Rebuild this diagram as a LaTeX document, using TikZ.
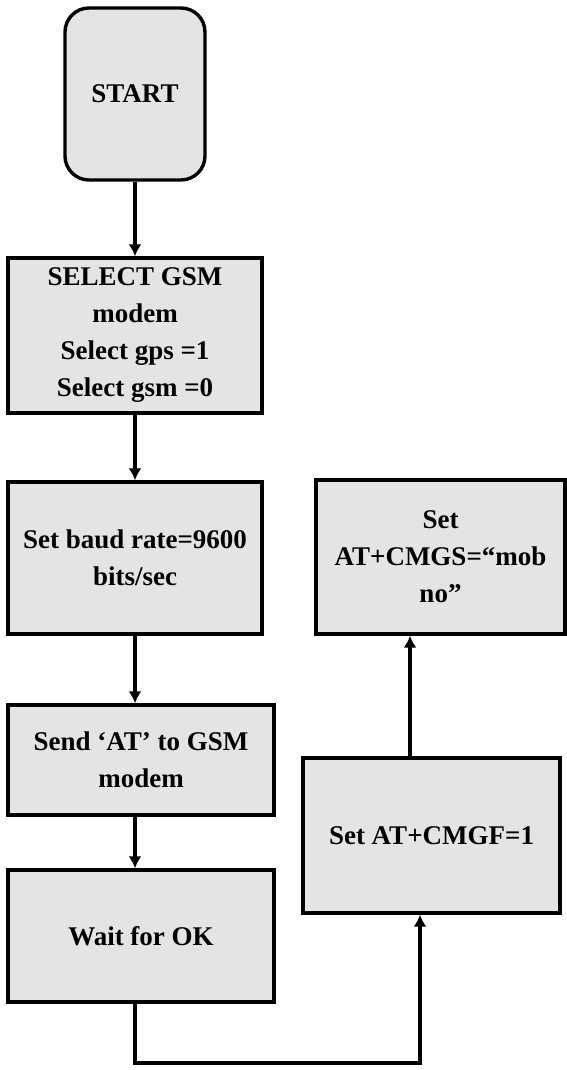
\documentclass[tikz,border=0pt]{standalone}
\usepackage{fontspec}
\setmainfont{Liberation Serif}
\usetikzlibrary{arrows.meta}
\definecolor{boxgray}{HTML}{E4E4E4}
\begin{document}
\begin{tikzpicture}[x=1pt,y=-1pt,
  box/.style={draw, line width=3.4pt, fill=boxgray, align=center, inner sep=0pt,
    font=\bfseries\fontsize{27}{37}\selectfont},
  conn/.style={line width=3.2pt, -{Latex[length=12pt,width=13pt]}}]
\useasboundingbox (0,0) rectangle (566,1070);
\node[box, rounded corners=24pt, minimum width=140pt, minimum height=172pt] (start) at (135,94) {START};
\node[box, minimum width=254pt, minimum height=155pt] (sel) at (135,335.5) {SELECT GSM\\modem\\Select gps =1\\Select gsm =0};
\node[box, minimum width=254pt, minimum height=152pt] (baud) at (135,558) {Set baud rate=9600\\bits/sec};
\node[box, minimum width=249pt, minimum height=154pt] (cmgs) at (440.5,557) {Set\\AT+CMGS=“mob\\no”};
\node[box, minimum width=266pt, minimum height=110pt] (send) at (141,760) {Send ‘AT’ to GSM\\modem};
\node[box, minimum width=266pt, minimum height=132pt] (wait) at (141,936) {Wait for OK};
\node[box, minimum width=257pt, minimum height=155pt] (cmgf) at (431.5,835.5) {Set AT+CMGF=1};
\coordinate (col) at (135,0);
\coordinate (turn) at (135,1063);
\coordinate (up1) at (420,0);
\coordinate (up2) at (410,0);
\draw[conn] (start.south) -- (sel.north);
\draw[conn] (sel.south) -- (baud.north);
\draw[conn] (baud.south) -- (col |- send.north);
\draw[conn] (col |- send.south) -- (col |- wait.north);
\draw[conn] (col |- wait.south) -- (turn) -| (up1 |- cmgf.south);
\draw[conn] (up2 |- cmgf.north) -- (up2 |- cmgs.south);
\end{tikzpicture}
\end{document}
